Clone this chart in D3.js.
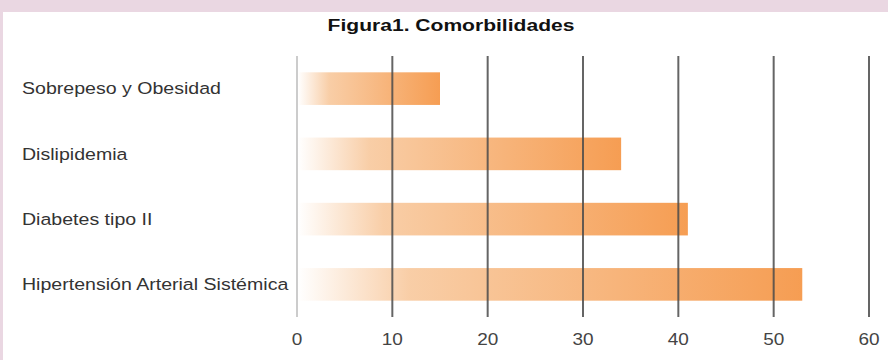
<!DOCTYPE html>
<html>
<head>
<meta charset="utf-8">
<script src="https://cdn.jsdelivr.net/npm/d3@7"></script>
<style>
  body { margin: 0; background: #ead7e2; }
  #chart { position: absolute; left: 3px; top: 12px; width: 885px; height: 348px; background: #fff; }
</style>
</head>
<body>
<div id="chart"></div>
<script>
var categories = ['Sobrepeso y Obesidad', 'Dislipidemia', 'Diabetes tipo II', 'Hipertensión Arterial Sistémica'];
var values = [15, 34, 41, 53];
var ticks = [0, 10, 20, 30, 40, 50, 60];
var title = 'Figura1. Comorbilidades';

var width = 885, height = 348;
var margin = { top: 44, left: 294, right: 19, bottom: 43 };
var font = 'Arial, "Liberation Sans", Helvetica, sans-serif';
// the source picture has slightly wide lettering
var stretch = 1.2;

var svg = d3.select('#chart').append('svg')
  .attr('width', width)
  .attr('height', height)
  .attr('font-family', font);

var defs = svg.append('defs');
var grad = defs.append('linearGradient')
  .attr('id', 'barGrad')
  .attr('x1', '0%').attr('x2', '100%')
  .attr('y1', '0%').attr('y2', '0%');
grad.append('stop').attr('offset', '0%').attr('stop-color', '#ffffff');
grad.append('stop').attr('offset', '22%').attr('stop-color', '#f8caa0');
grad.append('stop').attr('offset', '100%').attr('stop-color', '#f59646');

var x = d3.scaleLinear()
  .domain([0, 60])
  .range([margin.left, width - margin.right]);

var y = d3.scaleBand()
  .domain(categories)
  .range([margin.top, height - margin.bottom])
  .paddingInner(0.5)
  .paddingOuter(0.25);

// title
svg.append('text')
  .attr('transform', 'translate(448,19) scale(1.24,1)')
  .attr('text-anchor', 'middle')
  .attr('font-size', 17)
  .attr('font-weight', 'bold')
  .attr('fill', '#111')
  .text(title);

// bars
svg.selectAll('.bar')
  .data(categories)
  .enter().append('rect')
  .attr('class', 'bar')
  .attr('x', x(0) + 1)
  .attr('y', d => y(d))
  .attr('width', (d, i) => x(values[i]) - x(0) - 1)
  .attr('height', y.bandwidth())
  .attr('fill', 'url(#barGrad)')
  .attr('opacity', 0.93);

// gridlines drawn above bars
svg.selectAll('.grid')
  .data(ticks)
  .enter().append('line')
  .attr('class', 'grid')
  .attr('x1', d => x(d))
  .attr('x2', d => x(d))
  .attr('y1', margin.top)
  .attr('y2', height - margin.bottom)
  .attr('stroke', d => d === 0 ? '#cccccc' : '#4a4a4a')
  .attr('stroke-opacity', d => d === 0 ? 1 : 0.85)
  .attr('stroke-width', 2);

// tick labels
svg.selectAll('.tick-label')
  .data(ticks)
  .enter().append('text')
  .attr('class', 'tick-label')
  .attr('transform', d => `translate(${x(d)},${height - margin.bottom + 28}) scale(1.15,1)`)
  .attr('text-anchor', 'middle')
  .attr('font-size', 16.5)
  .attr('fill', '#444')
  .text(d => d);

// category labels
svg.selectAll('.cat-label')
  .data(categories)
  .enter().append('text')
  .attr('class', 'cat-label')
  .attr('transform', d => `translate(19,${y(d) + y.bandwidth() / 2}) scale(${stretch},1)`)
  .attr('dy', '0.35em')
  .attr('font-size', 16.3)
  .attr('fill', '#333')
  .text(d => d);
</script>
</body>
</html>
